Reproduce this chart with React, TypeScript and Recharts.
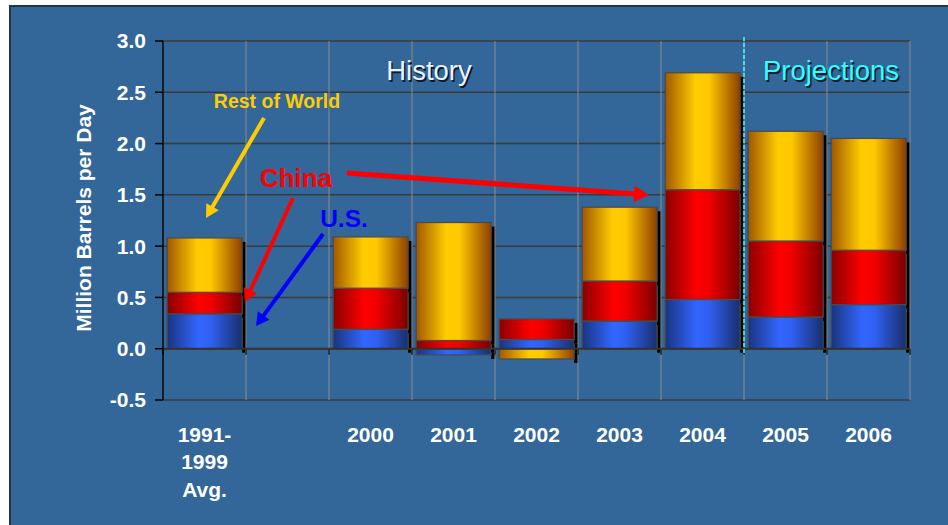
import React from 'react';
import { BarChart, Bar, XAxis, YAxis, CartesianGrid, ReferenceLine } from 'recharts';

const categories = ['1991-1999 Avg.', 'gap', '2000', '2001', '2002', '2003', '2004', '2005', '2006'];
const tickLabels: string[][] = [['1991-', '1999', 'Avg.'], [], ['2000'], ['2001'], ['2002'], ['2003'], ['2004'], ['2005'], ['2006']];
const usValues = [0.34, null, 0.19, -0.06, 0.09, 0.27, 0.48, 0.31, 0.43];
const chinaValues = [0.21, null, 0.40, 0.08, 0.20, 0.39, 1.07, 0.74, 0.53];
const rowValues = [0.53, null, 0.50, 1.15, -0.10, 0.72, 1.14, 1.07, 1.09];
const yTicks = [-0.5, 0, 0.5, 1, 1.5, 2, 2.5, 3];

const data = categories.map((cat, i) => ({
  cat,
  us: usValues[i],
  china: chinaValues[i],
  row: rowValues[i],
}));

const FONT = '"Liberation Sans", Arial, Helvetica, sans-serif';

const GradBar = (props: any) => {
  let { x, y, width, height, gradId } = props;
  if (x == null || y == null || !width || !height) return null;
  if (height < 0) {
    y = y + height;
    height = -height;
  }
  return (
    <g>
      <rect x={x + width} y={y + 4} width={4} height={height} fill="#000" />
      <rect x={x} y={y} width={width} height={height} fill={`url(#${gradId})`} stroke="#4a4a4a" strokeWidth={1.2} />
    </g>
  );
};

const XTick = (props: any) => {
  const { x, y, payload } = props;
  const lines = tickLabels[payload.index] || [];
  return (
    <text x={x} y={y + 33.5} textAnchor="middle" fill="#fff" fontSize={21} fontWeight="bold" fontFamily={FONT}>
      {lines.map((l, i) => (
        <tspan key={i} x={x} dy={i === 0 ? 0 : 27.5}>{l}</tspan>
      ))}
    </text>
  );
};

const Arrow = ({ x1, y1, x2, y2, color, w = 4, head = 13 }: any) => {
  const dx = x2 - x1, dy = y2 - y1;
  const len = Math.sqrt(dx * dx + dy * dy);
  const ux = dx / len, uy = dy / len;
  const bx = x2 - ux * head, by = y2 - uy * head;
  const px = -uy, py = ux;
  const hw = head * 0.55;
  return (
    <g>
      <line x1={x1} y1={y1} x2={bx + ux * 2} y2={by + uy * 2} stroke={color} strokeWidth={w} />
      <polygon points={`${x2},${y2} ${bx + px * hw},${by + py * hw} ${bx - px * hw},${by - py * hw}`} fill={color} />
    </g>
  );
};

export default function App() {
  return (
    <div style={{ position: 'fixed', left: 0, top: 0, width: 948, height: 525, background: '#fff', overflow: 'hidden' }}>
      <div style={{ position: 'absolute', left: 9, top: 5, width: 960, height: 540, background: '#336699', borderLeft: '2px solid #1E3550', borderTop: '2px solid #1E3550' }} />
      <div style={{ position: 'absolute', left: 0, top: 0 }}>
        <BarChart
          width={948}
          height={525}
          data={data}
          stackOffset="sign"
          barCategoryGap="5%"
          margin={{ top: 41, right: 38, bottom: 0, left: 100 }}
        >
          <defs>
            <linearGradient id="gY" x1="0" y1="0" x2="1" y2="0">
              <stop offset="0%" stopColor="#A05800" />
              <stop offset="40%" stopColor="#FFCC00" />
              <stop offset="58%" stopColor="#FFC800" />
              <stop offset="100%" stopColor="#8E4000" />
            </linearGradient>
            <linearGradient id="gR" x1="0" y1="0" x2="1" y2="0">
              <stop offset="0%" stopColor="#8A0000" />
              <stop offset="42%" stopColor="#FF0000" />
              <stop offset="58%" stopColor="#F00000" />
              <stop offset="100%" stopColor="#7A0000" />
            </linearGradient>
            <linearGradient id="gB" x1="0" y1="0" x2="1" y2="0">
              <stop offset="0%" stopColor="#1A3480" />
              <stop offset="42%" stopColor="#3366FF" />
              <stop offset="58%" stopColor="#3060F0" />
              <stop offset="100%" stopColor="#18306E" />
            </linearGradient>
          </defs>
          <CartesianGrid vertical={false} stroke="#3a3a3a" strokeWidth={1.5} />
          {categories.map((c) => (
            <ReferenceLine key={'v' + c} x={c} position="start" stroke="#8c8c8c" strokeWidth={1} />
          ))}
          <ReferenceLine x="2006" position="end" stroke="#8c8c8c" strokeWidth={1} />
          <ReferenceLine y={0} stroke="#333" strokeWidth={2} />
          {categories.map((c) => (
            <ReferenceLine
              key={'t' + c}
              segment={[{ x: c, y: 0 }, { x: c, y: -0.06 }]}
              position="start"
              stroke="#333"
              strokeWidth={2}
            />
          ))}
          <ReferenceLine
            segment={[{ x: '2006', y: 0 }, { x: '2006', y: -0.06 }]}
            position="end"
            stroke="#333"
            strokeWidth={2}
          />
          <XAxis
            dataKey="cat"
            interval={0}
            axisLine={false}
            tickLine={false}
            height={125}
            tick={<XTick />}
          />
          <YAxis
            type="number"
            domain={[-0.5, 3]}
            ticks={yTicks}
            width={63}
            tickSize={8}
            tickMargin={9}
            axisLine={{ stroke: '#000', strokeWidth: 1.5 }}
            tickLine={{ stroke: '#000', strokeWidth: 1.5 }}
            tick={{ fill: '#fff', fontSize: 21, fontWeight: 'bold', fontFamily: FONT }}
            tickFormatter={(v: number) => v.toFixed(1)}
            allowDataOverflow
          />
          <Bar dataKey="us" stackId="a" isAnimationActive={false} shape={(p: any) => <GradBar {...p} gradId="gB" />} />
          <Bar dataKey="china" stackId="a" isAnimationActive={false} shape={(p: any) => <GradBar {...p} gradId="gR" />} />
          <Bar dataKey="row" stackId="a" isAnimationActive={false} shape={(p: any) => <GradBar {...p} gradId="gY" />} />
          <ReferenceLine
            segment={[{ x: '2005', y: 3.04 }, { x: '2005', y: -0.05 }]}
            position="start"
            ifOverflow="visible"
            stroke="#33FFFF"
            strokeWidth={1.5}
            strokeDasharray="4 2"
          />
        </BarChart>
      </div>
      <svg width={948} height={525} style={{ position: 'absolute', left: 0, top: 0, pointerEvents: 'none' }}>
        <text x={83} y={218} transform="rotate(-90 83 218)" textAnchor="middle" dominantBaseline="central" fill="#fff" fontSize={21} fontWeight="bold" fontFamily={FONT}>
          Million Barrels per Day
        </text>
        <text x={430.5} y={81.5} textAnchor="middle" fill="#0a1a2a" fontSize={27.5} fontFamily={FONT}>History</text>
        <text x={429} y={80} textAnchor="middle" fill="#E8F4FF" fontSize={27.5} fontFamily={FONT}>History</text>
        <text x={832.5} y={81.5} textAnchor="middle" fill="#0a1a2a" fontSize={27.5} fontFamily={FONT}>Projections</text>
        <text x={831} y={80} textAnchor="middle" fill="#33FFFF" fontSize={27.5} fontFamily={FONT}>Projections</text>
        <text x={277} y={108} textAnchor="middle" fill="#FFCC00" fontSize={19.5} fontWeight="bold" fontFamily={FONT}>Rest of World</text>
        <text x={296} y={186.5} textAnchor="middle" fill="#FF0000" fontSize={26} fontWeight="bold" fontFamily={FONT}>China</text>
        <text x={344} y={226.5} textAnchor="middle" fill="#0000FF" fontSize={24.5} fontWeight="bold" fontFamily={FONT}>U.S.</text>
        <Arrow x1={264} y1={118} x2={206} y2={218} color="#FFCC00" w={4} />
        <Arrow x1={293} y1={198} x2={245} y2={302} color="#FF0000" w={4} />
        <Arrow x1={323} y1={234} x2={256} y2={326} color="#0000FF" w={4} />
        <Arrow x1={347} y1={173} x2={649} y2={195} color="#FF0000" w={5} head={15} />
      </svg>
    </div>
  );
}
